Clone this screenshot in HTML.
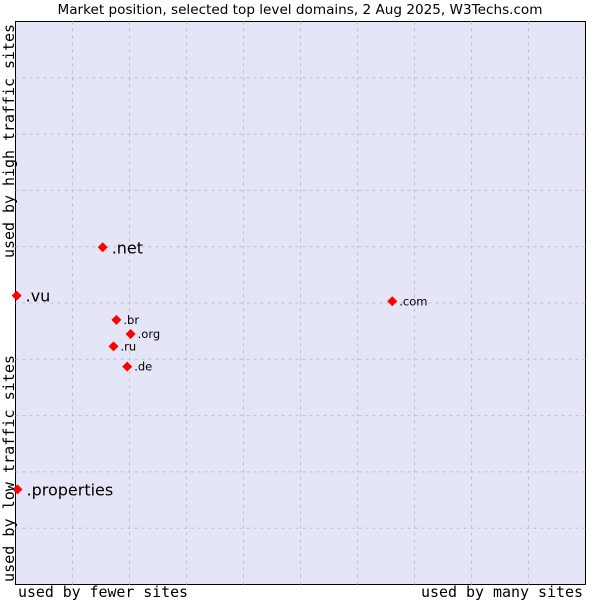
<!DOCTYPE html>
<html><head><meta charset="utf-8"><style>
body{margin:0;background:#fff;width:600px;height:600px;overflow:hidden}
svg{display:block}
</style></head><body>
<svg id="c" width="600" height="600">
<rect x="0" y="0" width="600" height="600" fill="#fff"/>
<rect id="plot" x="15.5" y="21.5" width="570" height="563" fill="#e4e6f8" stroke="#000" stroke-width="1"/>
<g id="grid"></g>
<g id="pts"></g>
<text x="300" y="14" font-family="DejaVu Sans, sans-serif" font-size="13" text-anchor="middle" fill="#000" textLength="485" lengthAdjust="spacingAndGlyphs">Market position, selected top level domains, 2 Aug 2025, W3Techs.com</text>
<text x="18" y="597" font-family="DejaVu Sans Mono, monospace" font-size="15" fill="#000" textLength="170" lengthAdjust="spacingAndGlyphs">used by fewer sites</text>
<text x="421" y="597" font-family="DejaVu Sans Mono, monospace" font-size="15" fill="#000" textLength="162" lengthAdjust="spacingAndGlyphs">used by many sites</text>
<text transform="translate(14,582) rotate(-90)" font-family="DejaVu Sans Mono, monospace" font-size="15" fill="#000" textLength="227" lengthAdjust="spacingAndGlyphs">used by low traffic sites</text>
<text transform="translate(14,258) rotate(-90)" font-family="DejaVu Sans Mono, monospace" font-size="15" fill="#000" textLength="234" lengthAdjust="spacingAndGlyphs">used by high traffic sites</text>
</svg>
<script>
const labels=[".net",".vu",".com",".br",".org",".ru",".de",".properties"];
const xVals=[15.3,0.2,66.1,17.7,20.2,17.2,19.6,0.35];
const yVals=[59.9,51.3,50.3,47.0,44.5,42.3,38.7,16.9];
const big=[true,true,false,false,false,false,false,true];
const L=15.5,T=21.5,W=570,H=563;
const sx=v=>L+v/100*W, sy=v=>T+H-v/100*H;
const NS="http://www.w3.org/2000/svg";
const g=document.getElementById('grid');
for(let i=1;i<10;i++){
 let l=document.createElementNS(NS,'line');
 l.setAttribute('x1',sx(i*10));l.setAttribute('x2',sx(i*10));l.setAttribute('y1',T);l.setAttribute('y2',T+H);
 l.setAttribute('stroke','#c0c0c0');l.setAttribute('stroke-dasharray','3,4');
 
 
 g.appendChild(l);
 let h=document.createElementNS(NS,'line');
 h.setAttribute('y1',sy(i*10));h.setAttribute('y2',sy(i*10));h.setAttribute('x1',L);h.setAttribute('x2',L+W);
 h.setAttribute('stroke','#c0c0c0');h.setAttribute('stroke-dasharray','3,4');
 
 
 g.appendChild(h);
}
const p=document.getElementById('pts');
labels.forEach((lb,i)=>{
 const x=sx(xVals[i]),y=sy(yVals[i]);
 let d=document.createElementNS(NS,'polygon');
 d.setAttribute('points',`${x},${y-5} ${x+5},${y} ${x},${y+5} ${x-5},${y}`);
 d.setAttribute('fill','#ff0000');
 
 
 p.appendChild(d);
 let t=document.createElementNS(NS,'text');
 t.setAttribute('x',x+(big[i]?9:7));t.setAttribute('y',y+(big[i]?6:4));
 t.setAttribute('font-family','DejaVu Sans, sans-serif');
 t.setAttribute('font-size',big[i]?16:11.5);
 t.setAttribute('fill','#000');
 t.textContent=lb;
 
 
 p.appendChild(t);
});
</script>
</body></html>
